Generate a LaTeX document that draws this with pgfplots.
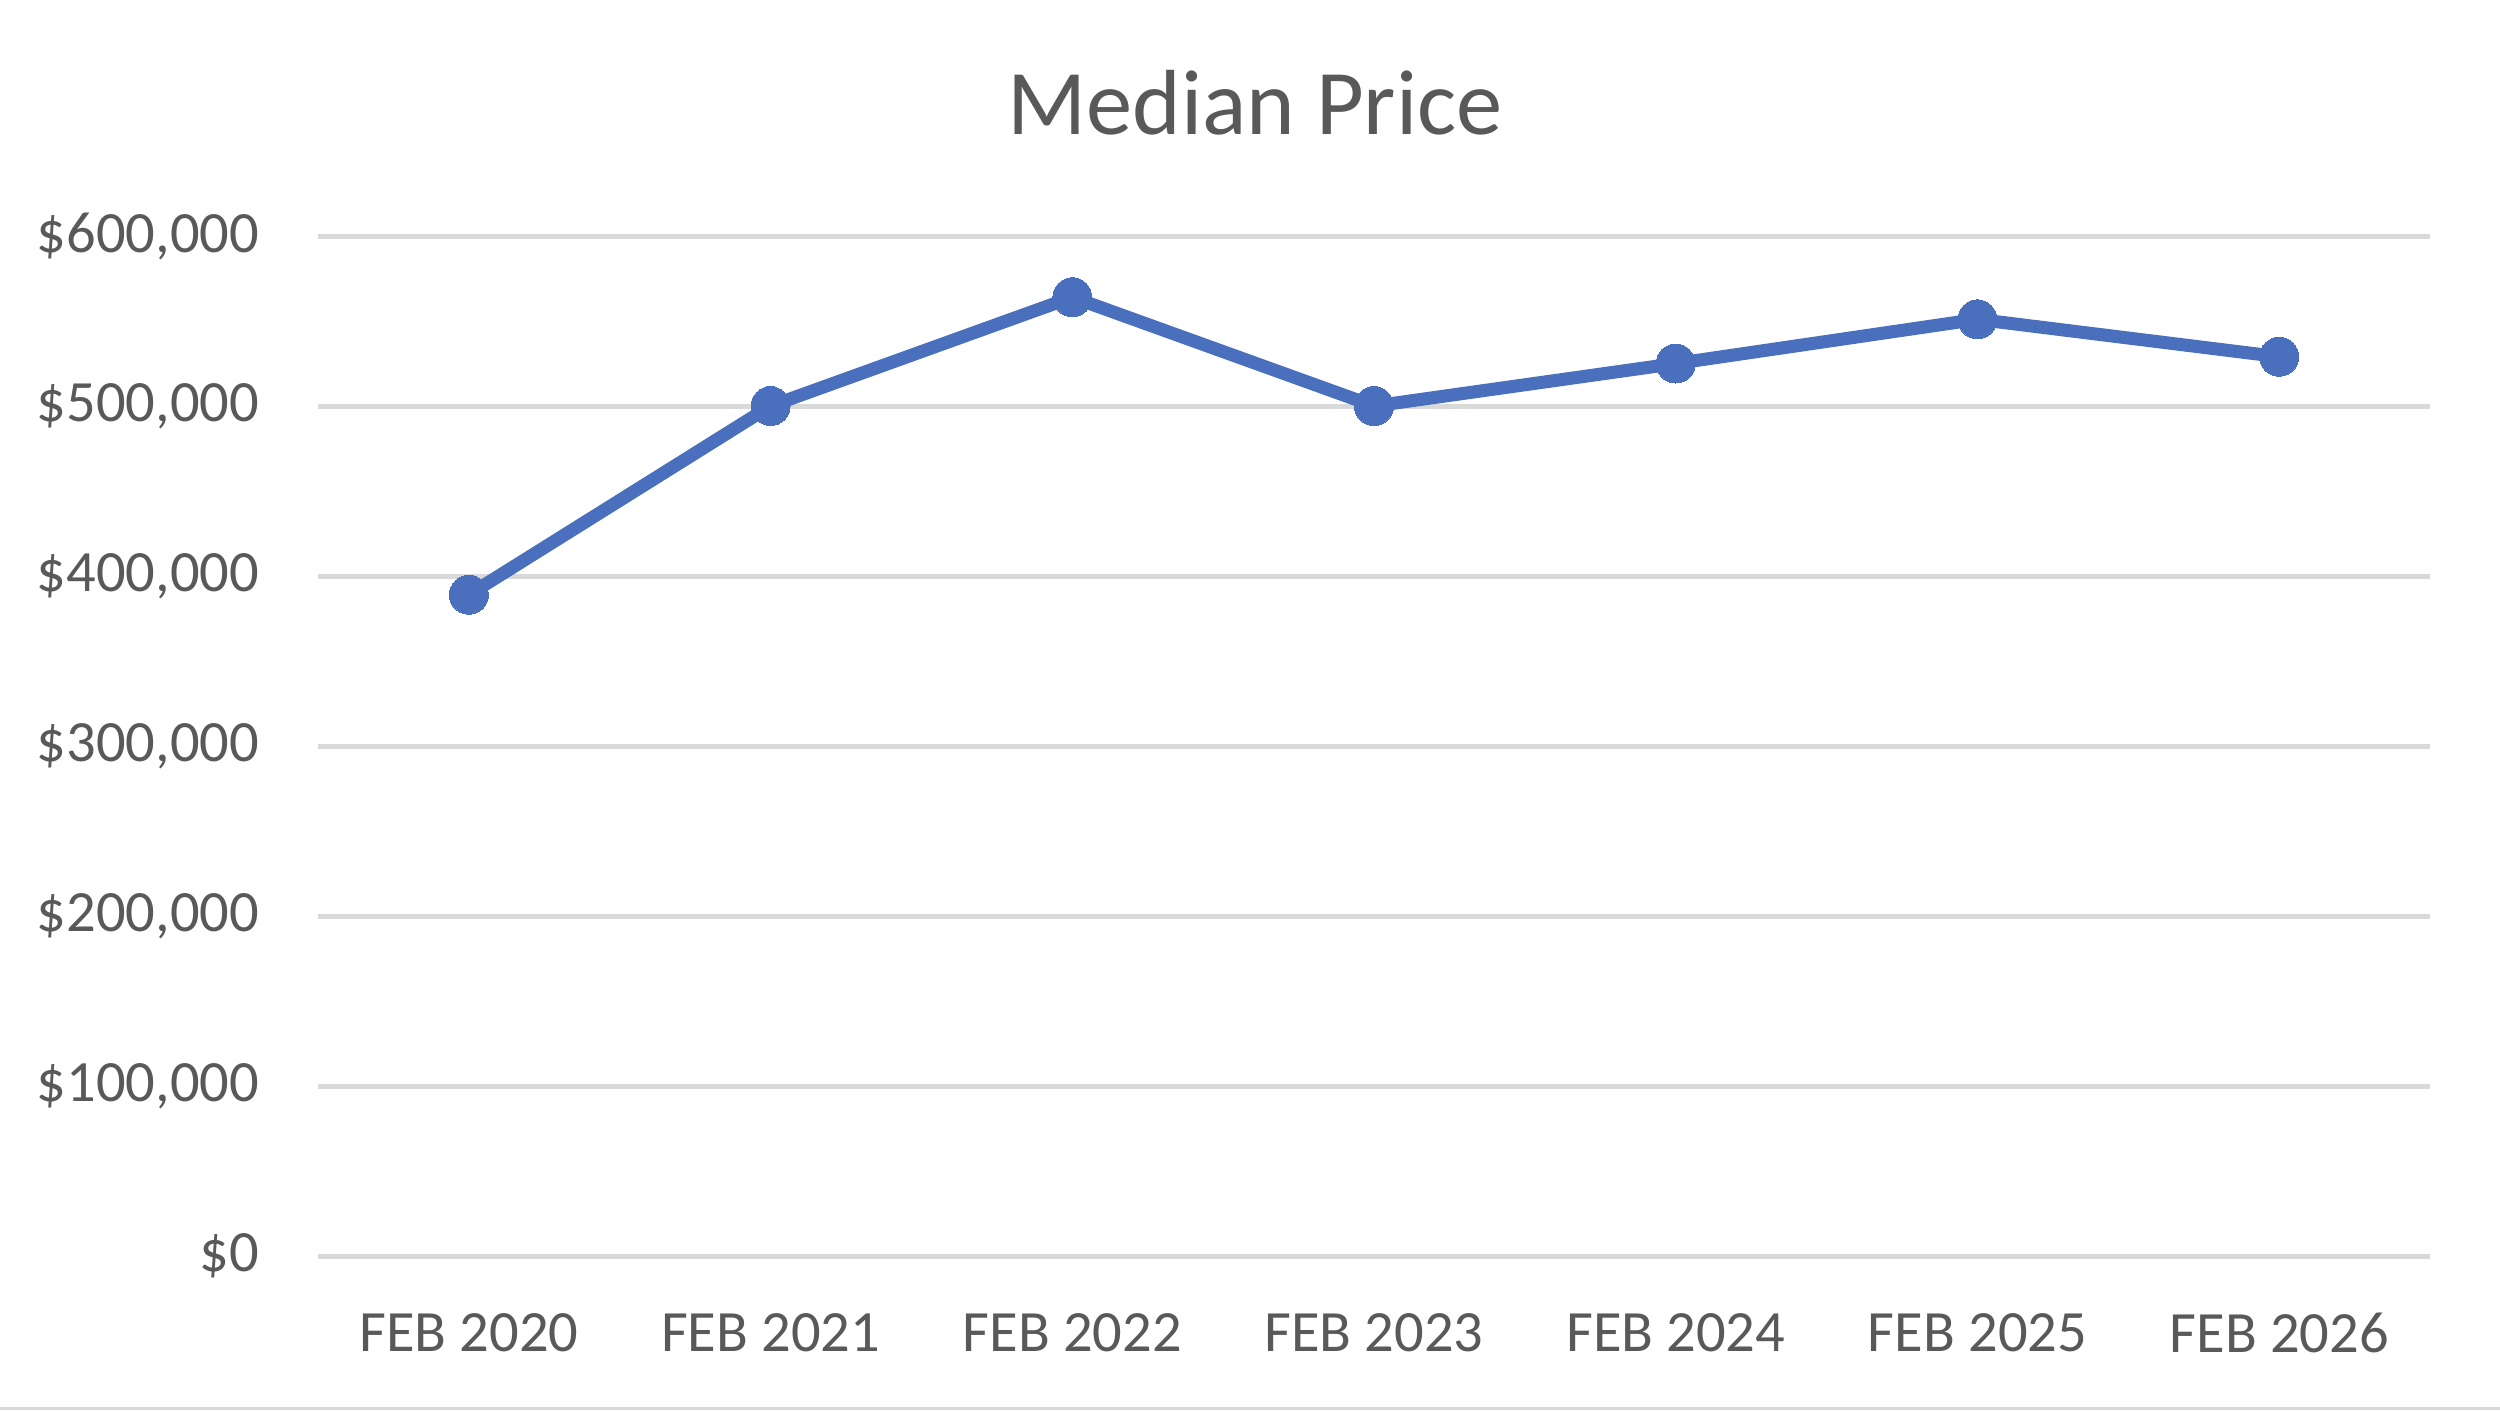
\documentclass[border=0pt]{standalone}
\usepackage{pgfplots}
\pgfplotsset{compat=1.18}
\usepackage{fontspec}
\setmainfont{Carlito}
\definecolor{txt}{HTML}{595959}
\definecolor{gridc}{HTML}{D9D9D9}
\definecolor{ser}{HTML}{4A6FBD}
\begin{document}
\begin{tikzpicture}
\path[use as bounding box] (0,0) rectangle (500pt,282pt);
\fill[gridc] (0,0) rectangle (500pt,0.6pt);
\node[text=txt, font=\fontsize{18.5}{22}\selectfont, anchor=center] at (251pt,261.5pt) {Median Price};
\begin{axis}[
  at={(63.6pt,30.8pt)}, anchor=south west,
  scale only axis, width=422.4pt, height=204pt,
  xmin=-0.5, xmax=6.5, ymin=0, ymax=600000,
  xtick={0,1,2,3,4,5,6},
  xticklabels={FEB 2020,FEB 2021,FEB 2022,FEB 2023,FEB 2024,FEB 2025,FEB 2026},
  ytick={0,100000,200000,300000,400000,500000,600000},
  scaled y ticks=false,
  yticklabel={\$\pgfmathprintnumber{\tick}},
  /pgf/number format/.cd, 1000 sep={,}, fixed, assume math mode=true, /pgfplots/.cd,
  axis line style={draw=none},
  major tick style={draw=none},
  xmajorgrids=false, ymajorgrids=true,
  major grid style={draw=gridc, line width=1pt},
  tick label style={text=txt, font=\fontsize{11.7}{14}\selectfont},
  xticklabel style={anchor=center, yshift=-15.4pt, inner sep=0pt},
  yticklabel style={anchor=east, xshift=-11.6pt, inner sep=0pt},
  clip=false,
]
\addplot[color=ser, line width=2.6pt, mark=*, mark size=3.9pt, mark options={fill=ser, draw=ser, line width=0pt}]
  coordinates {(0,389000) (1,500000) (2,564000) (3,500000) (4,525000) (5,551000) (6,529000)};
\end{axis}
\end{tikzpicture}
\end{document}
